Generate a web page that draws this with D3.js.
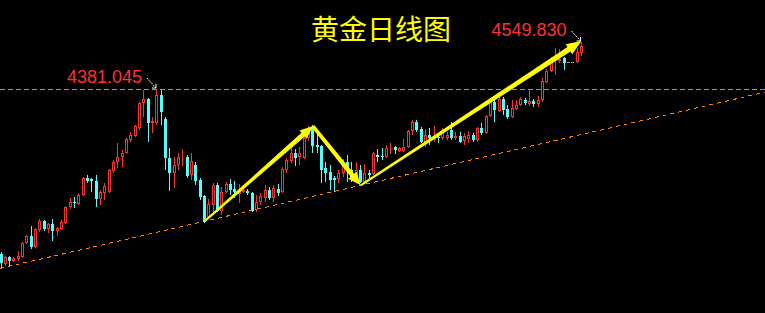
<!DOCTYPE html>
<html>
<head>
<meta charset="utf-8">
<script src="https://cdn.jsdelivr.net/npm/d3@7"></script>
<style>
html, body { margin: 0; padding: 0; background: #000; }
svg { display: block; }
</style>
</head>
<body>
<svg width="765" height="313"></svg>
<script>
// gold daily candles
var opens = [3787,3751,3776,3765,3769,3776,3827,3852,3812,3873,3906,3877,3895,3870,3877,3899,3956,3974,3967,3999,
  4061,4057,4050,3985,4007,4010,4086,4118,4136,4151,4197,4212,4241,4331,4345,4259,4259,4359,4273,4133,
  4079,4107,4133,4136,4071,4107,4053,3996,3920,3963,4035,3942,4010,4039,4021,4003,4010,4014,4007,3945,
  3974,3989,4017,3989,4021,4010,4089,4122,4151,4136,4133,4205,4241,4179,4176,4097,4082,4061,4057,4079,
  4118,4089,4064,4089,4046,4079,4075,4143,4140,4136,4169,4172,4158,4158,4172,4230,4262,4237,4190,4215,
  4197,4208,4205,4205,4233,4205,4212,4194,4201,4215,4197,4241,4223,4284,4334,4302,4345,4309,4280,4309,
  4323,4341,4327,4338,4327,4341,4406,4446,4485,4482,4493,4478,4478,4478,4511];
var highs = [3794,3780,3780,3776,3801,3830,3855,3888,3881,3913,3909,3899,3913,3884,3909,3960,3989,3992,4007,4064,
  4071,4061,4071,4017,4043,4093,4125,4187,4161,4205,4226,4251,4334,4377,4349,4280,4381.045,4377,4280,4169,
  4136,4151,4165,4143,4151,4118,4061,3999,3985,4043,4043,4028,4046,4057,4050,4039,4032,4021,4010,3999,
  4007,4035,4028,4035,4039,4100,4133,4169,4165,4172,4208,4248,4251,4219,4179,4118,4107,4068,4089,4129,
  4143,4118,4118,4107,4111,4089,4154,4165,4169,4179,4187,4176,4172,4201,4233,4269,4269,4244,4237,4241,
  4248,4223,4241,4226,4262,4226,4226,4223,4230,4223,4244,4259,4287,4349,4349,4352,4352,4323,4341,4341,
  4352,4349,4377,4345,4356,4421,4453,4496,4529,4525,4496,4478,4478,4529,4549.83];
var lows = [3740,3747,3744,3758,3765,3773,3823,3805,3809,3866,3870,3863,3834,3852,3873,3895,3949,3953,3963,3996,
  4043,4010,3956,3963,3981,4007,4079,4097,4100,4147,4190,4208,4233,4280,4190,4223,4251,4251,4089,4014,
  4025,4089,4104,4061,4053,4035,3981,3899,3913,3927,3938,3927,4007,3999,3989,3971,4007,3999,3938,3938,
  3963,3974,3981,3974,3996,4007,4079,4115,4104,4107,4129,4194,4151,4151,4043,4046,4017,4010,4043,4064,
  4046,4046,4043,4043,4043,4061,4071,4118,4125,4133,4147,4147,4154,4154,4169,4215,4226,4187,4172,4179,
  4190,4187,4197,4197,4197,4197,4187,4179,4187,4190,4190,4215,4219,4280,4262,4298,4287,4273,4276,4305,
  4320,4323,4320,4316,4316,4334,4403,4442,4431,4475,4449,4478,4478,4475,4500];
var closes = [3755,3776,3765,3773,3780,3827,3852,3812,3877,3906,3877,3895,3870,3881,3902,3956,3974,3971,3999,4061,
  4050,4050,3985,4010,4032,4089,4118,4136,4151,4201,4215,4248,4331,4345,4259,4266,4359,4298,4133,4079,
  4107,4136,4136,4068,4122,4050,3992,3902,3967,4035,3942,4010,4039,4017,4010,4017,4017,4007,3942,3974,
  3996,4017,3989,4025,4007,4093,4125,4151,4133,4151,4205,4233,4176,4172,4089,4079,4053,4053,4079,4107,
  4089,4064,4089,4046,4079,4071,4151,4136,4136,4169,4172,4161,4169,4172,4230,4262,4233,4190,4215,4205,
  4212,4205,4226,4215,4205,4212,4190,4212,4215,4197,4241,4223,4284,4341,4305,4345,4305,4280,4313,4323,
  4345,4331,4338,4327,4341,4410,4446,4493,4500,4489,4475,4478,4478,4514,4536];

var titleText = "黄金日线图";
var peakIndex = 36, lastIndex = 134;
var resistance = 4381.045;
// rising support drawn through two lows
var supportIdx = [47, 83], supportVal = [3906, 4035];
// yellow swing arrows: candle index and price of each turn
var swingIdx = [47, 72, 83, 134], swingVal = [3906, 4248, 4035, 4553];

var svg = d3.select("svg"),
    width = +svg.attr("width"),
    height = +svg.attr("height");

var red = "#ff3030", cyan = "#50ffff", orange = "#ff8000", yellow = "#ffff00";

var x = d3.scaleLinear().domain([0, opens.length - 1]).range([1, 581.5]),
    y = d3.scaleLinear().domain([4381.045, 4549.83]).range([89, 42]);

svg.append("rect").attr("width", width).attr("height", height).attr("fill", "#000");

var candles = opens.map(function(o, i) {
  return {i: i, o: o, h: highs[i], l: lows[i], c: closes[i]};
});

// support + resistance
var slope = (supportVal[1] - supportVal[0]) / (supportIdx[1] - supportIdx[0]);
var leftIdx = x.invert(0), rightIdx = x.invert(width);
svg.append("line")
    .attr("x1", 0).attr("x2", width)
    .attr("y1", y(supportVal[0] + slope * (leftIdx - supportIdx[0])))
    .attr("y2", y(supportVal[0] + slope * (rightIdx - supportIdx[0])))
    .attr("stroke", orange).attr("stroke-width", 1)
    .attr("stroke-dasharray", "4,4")
    .attr("shape-rendering", "crispEdges");

svg.append("line")
    .attr("x1", 0).attr("x2", width)
    .attr("y1", Math.round(y(resistance)) + 0.5).attr("y2", Math.round(y(resistance)) + 0.5)
    .attr("stroke", orange).attr("stroke-width", 1)
    .attr("stroke-dasharray", "5,3")
    .attr("shape-rendering", "crispEdges");

var g = svg.append("g").attr("shape-rendering", "crispEdges");

function px(d) { return Math.floor(x(d.i)); }
function colour(d) {
  if (d.h == d.l) return "#a0a0a0";
  return d.c >= d.o ? red : cyan;
}

g.selectAll(".wick").data(candles.filter(function(d){ return d.h != d.l; })).enter().append("line")
    .attr("class", "wick")
    .attr("x1", function(d){ return px(d) + 0.5; })
    .attr("x2", function(d){ return px(d) + 0.5; })
    .attr("y1", function(d){ return Math.round(y(d.h)); })
    .attr("y2", function(d){ return Math.round(y(d.l)); })
    .attr("stroke", colour);

g.selectAll(".body").data(candles).enter().append("rect")
    .attr("class", "body")
    .attr("x", function(d){ return d.c >= d.o && d.h != d.l ? px(d) - 0.5 : px(d) - 1; })
    .attr("width", function(d){ return d.c >= d.o && d.h != d.l ? 2 : 3; })
    .attr("y", function(d){
      var t = Math.round(y(Math.max(d.o, d.c)));
      return d.c >= d.o && d.h != d.l ? t + 0.5 : t;
    })
    .attr("height", function(d){
      var h = Math.round(y(Math.min(d.o, d.c))) - Math.round(y(Math.max(d.o, d.c)));
      if (d.c >= d.o && d.h != d.l) return Math.max(0, h - 1);
      return Math.max(1, h);
    })
    .attr("fill", function(d){ return d.c >= d.o && d.h != d.l ? "#000" : colour(d); })
    .attr("stroke", function(d){ return d.c >= d.o && d.h != d.l ? red : "none"; });

// yellow arrows, thin at the tail and fat at the head
function arrowPoly(x0, y0, x1, y1, w0, w1, hl, hw) {
  var dx = x1 - x0, dy = y1 - y0, L = Math.sqrt(dx*dx + dy*dy),
      ux = dx / L, uy = dy / L, nx = -uy, ny = ux,
      bx = x1 - ux * hl, by = y1 - uy * hl;
  return [[x0 + nx*w0/2, y0 + ny*w0/2], [bx + nx*w1/2, by + ny*w1/2], [bx + nx*hw/2, by + ny*hw/2],
          [x1, y1], [bx - nx*hw/2, by - ny*hw/2], [bx - nx*w1/2, by - ny*w1/2], [x0 - nx*w0/2, y0 - ny*w0/2]];
}
var arrowStyle = [[2, 5, 13, 11], [3.5, 4.5, 13, 11], [2, 5.5, 15, 12]];
for (var k = 0; k < swingIdx.length - 1; k++) {
  var s = arrowStyle[k];
  svg.append("polygon")
      .attr("points", arrowPoly(x(swingIdx[k]), y(swingVal[k]), x(swingIdx[k+1]), y(swingVal[k+1]), s[0], s[1], s[2], s[3]).join(" "))
      .attr("fill", yellow);
}

// price tags with small white pointers
function tag(idx, label) {
  var tx = x(idx), ty = y(highs[idx]);
  svg.append("line")
      .attr("x1", tx - 10).attr("y1", ty - 11).attr("x2", tx - 1).attr("y2", ty - 1)
      .attr("stroke", "#fff").attr("stroke-width", 1).attr("stroke-dasharray", "2,1");
  svg.append("path")
      .attr("d", "M" + (tx - 5) + "," + (ty - 1) + "L" + (tx - 1) + "," + (ty - 1) + "L" + (tx - 1) + "," + (ty - 5))
      .attr("fill", "none").attr("stroke", "#fff").attr("stroke-width", 1);
  svg.append("text")
      .attr("x", tx - 15).attr("y", ty - 6)
      .attr("text-anchor", "end")
      .attr("font-family", "'Liberation Sans', Arial, sans-serif")
      .attr("font-size", 18)
      .attr("fill", red)
      .text(label);
}
tag(peakIndex, d3.format(".3f")(highs[peakIndex]));
tag(lastIndex, d3.format(".3f")(highs[lastIndex]));

svg.append("text")
    .attr("x", 381).attr("y", 40)
    .attr("text-anchor", "middle")
    .attr("font-family", "'Noto Sans CJK SC', sans-serif")
    .attr("font-size", 28)
    .attr("fill", yellow)
    .text(titleText);
</script>
</body>
</html>
